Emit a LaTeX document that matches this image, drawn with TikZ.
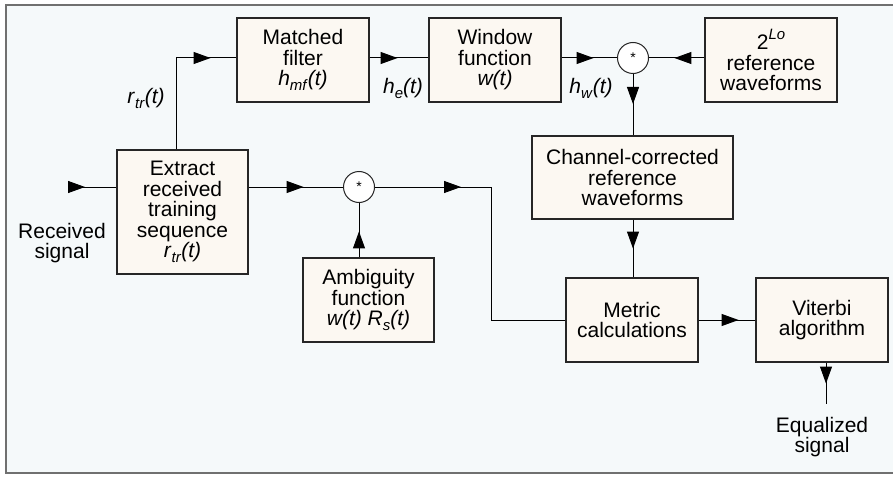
\documentclass[tikz,border=0pt]{standalone}
\usepackage{fontspec}
\setmainfont{Liberation Sans}
\usetikzlibrary{arrows.meta,decorations.markings}
\definecolor{bgc}{HTML}{F5F9FA}
\definecolor{boxc}{HTML}{FCF8F2}
\definecolor{framec}{HTML}{707070}
\newcommand\mysb[1]{\raisebox{-0.45ex}{\fontsize{15}{15}\selectfont #1}}
\newcommand\mysp[1]{\raisebox{0.9ex}{\fontsize{15}{15}\selectfont #1}}
\tikzset{
  blk/.style={draw=black!85,line width=1.1pt,fill=boxc,align=center,inner sep=0pt,
    font=\fontsize{21}{20.5}\selectfont},
  mulc/.style={draw=black!85,line width=1pt,fill=white,circle,minimum size=31pt,inner sep=0pt,
    font=\fontsize{14}{14}\selectfont},
  lbl/.style={align=center,inner sep=0pt,font=\fontsize{21}{20.5}\selectfont},
  wire/.style={line width=1pt,black},
  arrat/.style={postaction={decorate},decoration={markings,
    mark=at position #1 with {\arrow{Triangle[length=17pt,width=12pt]}}}}
}
\begin{document}
\begin{tikzpicture}[x=1pt,y=-1pt]
\useasboundingbox (0,0) rectangle (893,476);
\draw[framec,line width=2pt,fill=bgc] (6,5) rectangle (900,473);
% blocks
\node[blk,minimum width=132pt,minimum height=84pt] (mf) at (303,60) {Matched\\filter\\\textit{h}\mysb{\textit{mf}}\textit{(t)}};
\node[blk,minimum width=132pt,minimum height=84pt] (wf) at (495,60) {Window\\function\\\textit{w(t)}};
\node[blk,minimum width=132pt,minimum height=84pt] (ref) at (771,60) {2\mysp{\textit{Lo}}\\reference\\waveforms};
\node[blk,minimum width=201pt,minimum height=83pt] (cc) at (632.5,177.5) {Channel-corrected\\reference\\waveforms};
\node[blk,minimum width=131pt,minimum height=124pt] (ex) at (182.5,212) {Extract\\received\\training\\sequence\\\textit{r}\mysb{\textit{tr}}\textit{(t)}};
\node[blk,minimum width=131pt,minimum height=84pt] (amb) at (368.5,300) {Ambiguity\\function\\\textit{w(t) R}\mysb{\textit{s}}\textit{(t)}};
\node[blk,minimum width=132pt,minimum height=84pt] (met) at (632,320) {Metric\\calculations};
\node[blk,minimum width=132pt,minimum height=84pt] (vit) at (822,320) {Viterbi\\algorithm};
\node[mulc] (s1) at (633,58) {*};
\node[mulc] (s2) at (359,187) {*};
% labels
\node[lbl] (lin) at (62,243) {Received\\signal};
\node[lbl] (lout) at (822,437) {Equalized\\signal};
\node[lbl] (lr) at (146,98) {\textit{r}\mysb{\textit{tr}}\textit{(t)}};
\node[lbl] (lhe) at (403,88) {\textit{h}\mysb{\textit{e}}\textit{(t)}};
\node[lbl] (lhw) at (591,88) {\textit{h}\mysb{\textit{w}}\textit{(t)}};
% coordinates
\coordinate (rin) at (68,187);
\coordinate (br) at (176,58);
\coordinate (bend) at (491,187);
\coordinate (vout) at (826,404);
% connectors
\draw[wire,arrat=17pt] (rin) -- (ex.west |- s2);
\draw[wire,arrat=126pt] (br |- ex.north) -- (br) -- (mf.west |- br);
\draw[wire,arrat=28pt] (mf.east |- s1) -- (wf.west |- s1);
\draw[wire,arrat=32pt] (wf.east |- s1) -- (s1.west);
\draw[wire,arrat=30pt] (ref.west |- s1) -- (s1.east);
\draw[wire,arrat=30pt] (s1.south) -- (cc.north -| s1);
\draw[wire,arrat=29pt] (cc.south -| s1) -- (met.north -| s1);
\draw[wire,arrat=55pt] (ex.east |- s2) -- (s2.west);
\draw[wire,arrat=26pt] (amb.north -| s2) -- (s2.south);
\draw[wire,arrat=86pt] (s2.east) -- (bend) -- (bend |- met.west) -- (met.west);
\draw[wire,arrat=40pt] (met.east) -- (vit.west);
\draw[wire,arrat=21pt] (vit.south -| vout) -- (vout);
\end{tikzpicture}
\end{document}
